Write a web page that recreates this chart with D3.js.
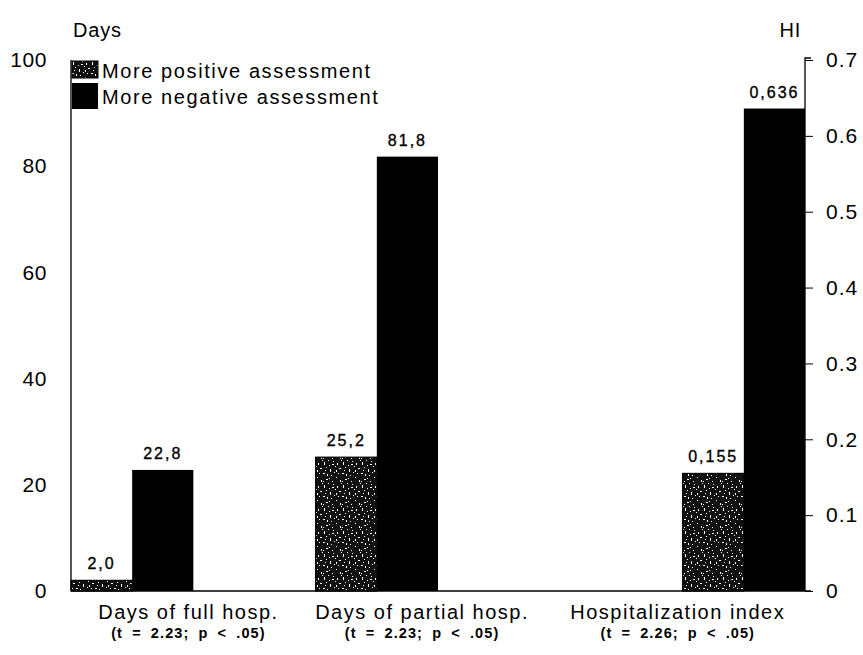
<!DOCTYPE html>
<html lang="en">
<head>
    <meta charset="UTF-8">
    <title>Days and hospitalization index</title>
    <script src="https://d3js.org/d3.v7.min.js"></script>
    <style>
        body {
            margin: 0;
            background: #fff;
            font-family: "Liberation Sans", Arial, sans-serif;
        }
        svg text {
            fill: #000;
            font-family: "Liberation Sans", Arial, sans-serif;
        }
    </style>
</head>
<body>
    <svg width="863" height="655"></svg>
    <script>
        // data
        const categories = ["Days of full hosp.", "Days of partial hosp.", "Hospitalization index"];
        const statLabels = ["(t = 2.23; p < .05)", "(t = 2.23; p < .05)", "(t = 2.26; p < .05)"];
        const positiveValues = [2.0, 25.2, 0.155];
        const negativeValues = [22.8, 81.8, 0.636];
        const valueLabels = [["2,0", "22,8"], ["25,2", "81,8"], ["0,155", "0,636"]];
        const axisForCategory = ["days", "days", "hi"];
        const daysTicks = [0, 20, 40, 60, 80, 100];
        const hiTicks = [0, 0.1, 0.2, 0.3, 0.4, 0.5, 0.6, 0.7];
        const seriesNames = ["More positive assessment", "More negative assessment"];

        // layout (in bar-width slots)
        const groupSlot = [0, 4, 10];
        const labelSlot = [1.92, 5.74, 9.92];

        const svg = d3.select("svg");
        const plotLeft = 71, plotRight = 805, plotTop = 60, plotBottom = 591;

        const x = d3.scaleLinear().domain([0, 12]).range([plotLeft, plotRight]);
        const yDays = d3.scaleLinear().domain([0, 100]).range([plotBottom, plotTop]);
        const yHi = d3.scaleLinear().domain([0, 0.7]).range([plotBottom, plotTop]);
        const yFor = i => axisForCategory[i] === "hi" ? yHi : yDays;

        // speckled texture for the positive bars (fixed speck layout, scanned look)
        const defs = svg.append("defs");
        const pat = defs.append("pattern")
            .attr("id", "speckle")
            .attr("patternUnits", "userSpaceOnUse")
            .attr("width", 19).attr("height", 23);
        pat.append("rect").attr("width", 19).attr("height", 23).attr("fill", "#111");
        const specks = [
            [1,2,1,3],[5,0,1,1],[9,4,2,1],[3,7,1,1],[7,9,1,3],[11,12,1,1],[0,13,2,1],[4,14,1,2],
            [10,1,1,1],[8,15,1,1],[2,10,1,1],[6,5,1,1],[14,3,1,2],[16,8,2,1],[13,17,1,1],[17,20,1,2],
            [15,13,1,1],[12,6,1,1],[3,19,2,1],[9,21,1,1],[6,18,1,1],[18,0,1,1],[0,21,1,1],[13,10,1,2]
        ];
        specks.forEach(s => pat.append("rect")
            .attr("x", s[0]).attr("y", s[1]).attr("width", s[2]).attr("height", s[3])
            .attr("fill", "#fff"));

        // bars
        const bars = svg.append("g");
        categories.forEach((c, i) => {
            const y = yFor(i);
            const s = groupSlot[i];
            bars.append("rect")
                .attr("x", x(s)).attr("width", x(s + 1) - x(s))
                .attr("y", y(positiveValues[i])).attr("height", plotBottom - y(positiveValues[i]))
                .attr("fill", "url(#speckle)")
                .attr("stroke", "#000").attr("stroke-width", 1.2);
            bars.append("rect")
                .attr("x", x(s + 1)).attr("width", x(s + 2) - x(s + 1))
                .attr("y", y(negativeValues[i])).attr("height", plotBottom - y(negativeValues[i]))
                .attr("fill", "#000");
            [positiveValues[i], negativeValues[i]].forEach((v, k) => {
                bars.append("text")
                    .attr("x", (x(s + k) + x(s + k + 1)) / 2)
                    .attr("y", y(v) - 11)
                    .attr("text-anchor", "middle")
                    .attr("font-size", 16)
                    .attr("letter-spacing", 2)
                    .attr("stroke", "#000").attr("stroke-width", 0.35)
                    .text(valueLabels[i][k]);
            });
        });

        // baseline and axis lines
        svg.append("line").attr("x1", plotLeft).attr("x2", plotRight + 6)
            .attr("y1", plotBottom).attr("y2", plotBottom)
            .attr("stroke", "#000").attr("stroke-width", 1.4);

        const leftAxis = svg.append("g").attr("transform", `translate(${plotLeft},0)`)
            .call(d3.axisLeft(yDays).tickValues(daysTicks).tickSize(0).tickPadding(24)
                .tickFormat(d3.format("d")));
        leftAxis.select(".domain").attr("d", `M0,${plotTop}V${plotBottom}`).attr("stroke-width", 1.3);
        leftAxis.selectAll("text").attr("font-size", 21).attr("letter-spacing", 0.6);

        const rightAxis = svg.append("g").attr("transform", `translate(${plotRight},0)`)
            .call(d3.axisRight(yHi).tickValues(hiTicks).tickSize(8).tickPadding(13)
                .tickFormat(d => d === 0 ? "0" : d3.format(".1f")(d)));
        rightAxis.select(".domain").attr("d", `M6,${plotTop - 2}H0V${plotBottom}`).attr("stroke-width", 1.3);
        rightAxis.selectAll(".tick line").attr("stroke-width", 1);
        rightAxis.selectAll("text").attr("font-size", 21).attr("letter-spacing", 1);

        // axis titles
        svg.append("text").attr("x", 73).attr("y", 37).attr("font-size", 20)
            .attr("letter-spacing", 0.8).text("Days");
        svg.append("text").attr("x", 801).attr("y", 37).attr("text-anchor", "end").attr("font-size", 20)
            .attr("letter-spacing", 0.8).text("HI");

        // category labels
        categories.forEach((c, i) => {
            svg.append("text").attr("x", x(labelSlot[i])).attr("y", 619)
                .attr("text-anchor", "middle").attr("font-size", 20)
                .attr("letter-spacing", 1.5).text(c);
            svg.append("text").attr("x", x(labelSlot[i])).attr("y", 638)
                .attr("text-anchor", "middle").attr("font-size", 14.5).attr("font-weight", "bold")
                .attr("letter-spacing", 1.1).text(statLabels[i].replace(/ /g, "\u2009 "));
        });

        // legend
        const legend = svg.append("g").attr("transform", "translate(72,60)");
        legend.append("rect").attr("x", 0).attr("y", 1).attr("width", 26).attr("height", 17)
            .attr("fill", "url(#speckle)").attr("stroke", "#000");
        legend.append("rect").attr("x", 0).attr("y", 23).attr("width", 26).attr("height", 26)
            .attr("fill", "#000");
        seriesNames.forEach((n, i) => {
            legend.append("text").attr("x", 30).attr("y", i === 0 ? 18 : 44)
                .attr("font-size", 20).attr("letter-spacing", 1.6).text(n);
        });
    </script>
</body>
</html>
